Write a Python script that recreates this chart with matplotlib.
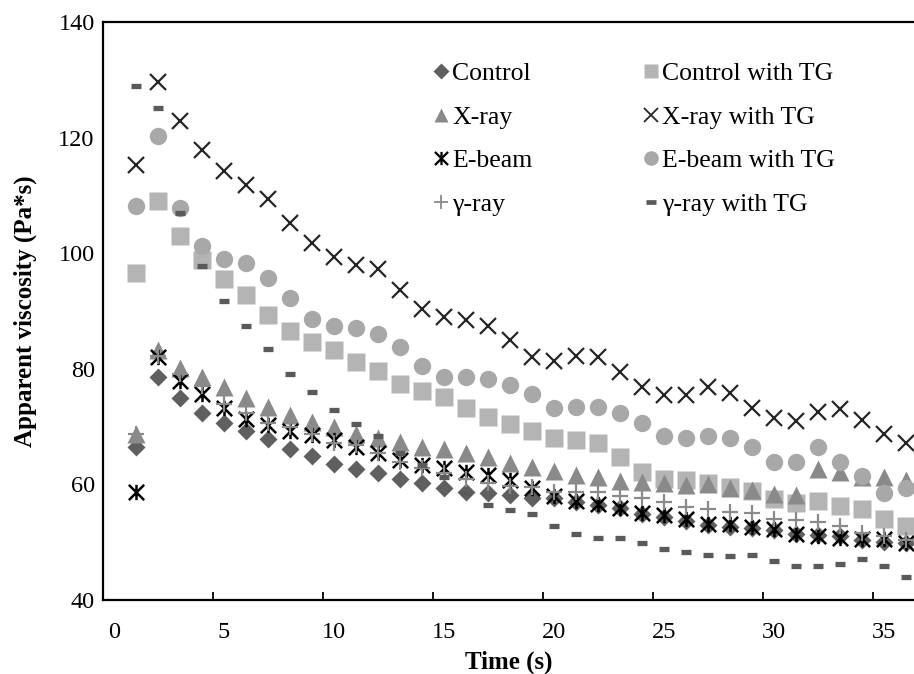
import matplotlib
matplotlib.use("Agg")
import matplotlib.pyplot as plt
import numpy as np
from matplotlib.path import Path

plt.rcParams["font.family"] = ["Liberation Serif", "DejaVu Serif"]

# time points (s)
time_s = np.arange(1, 37)

control = [66.5, 78.6, 75.0, 72.3, 70.7, 69.3, 67.8, 66.2, 65.0, 63.6,
           62.7, 61.9, 60.9, 60.2, 59.3, 58.6, 58.5, 58.2, 57.6, 57.6,
           57.0, 56.4, 55.9, 54.9, 54.4, 53.7, 53.0, 52.7, 52.5, 52.1,
           51.5, 51.2, 51.0, 50.4, 50.1, 49.8]
control_tg = [96.6, 109.0, 103.0, 98.9, 95.5, 92.8, 89.3, 86.5, 84.6, 83.2,
              81.1, 79.7, 77.4, 76.2, 75.1, 73.2, 71.7, 70.4, 69.2, 68.1,
              67.7, 67.1, 64.7, 62.2, 61.0, 60.8, 60.3, 59.6, 58.9, 57.4,
              56.7, 57.2, 56.3, 55.7, 54.0, 52.8]
xray = [68.7, 83.3, 80.1, 78.6, 76.9, 74.9, 73.4, 72.0, 70.8, 70.0,
        68.8, 68.1, 67.4, 66.4, 66.1, 65.4, 64.7, 63.7, 63.0, 62.4,
        61.6, 61.2, 60.6, 60.4, 60.2, 59.9, 60.1, 59.4, 59.0, 58.3,
        58.2, 62.7, 62.2, 61.3, 61.2, 60.8]
xray_tg = [115.3, 129.7, 122.8, 117.9, 114.3, 111.8, 109.3, 105.2, 101.8, 99.3,
           98.0, 97.2, 93.6, 90.4, 89.0, 88.4, 87.4, 85.0, 82.0, 81.4,
           82.3, 82.0, 79.4, 76.8, 75.5, 75.5, 76.8, 75.8, 73.2, 71.5,
           70.9, 72.6, 73.1, 71.2, 68.7, 67.2]
ebeam = [58.6, 82.1, 77.9, 75.6, 73.3, 71.3, 70.2, 69.3, 68.5, 67.7,
         66.5, 65.4, 64.2, 63.4, 62.8, 62.2, 61.6, 60.8, 59.3, 58.0,
         57.2, 56.6, 56.0, 55.0, 54.7, 54.0, 53.1, 53.1, 52.7, 52.2,
         51.5, 51.1, 50.7, 50.5, 50.5, 49.9]
ebeam_tg = [108.2, 120.3, 107.8, 101.2, 99.0, 98.3, 95.7, 92.2, 88.6, 87.4,
            87.1, 86.0, 83.7, 80.5, 78.5, 78.5, 78.2, 77.2, 75.6, 73.3,
            73.4, 73.4, 72.4, 70.6, 68.4, 68.1, 68.4, 68.0, 66.5, 63.8,
            63.8, 66.4, 63.8, 61.5, 58.5, 59.3]
gray = [68.7, 82.2, 79.1, 77.0, 73.9, 72.3, 70.7, 70.0, 68.8, 67.2,
        66.8, 65.5, 63.9, 62.8, 61.9, 60.9, 60.2, 59.8, 59.5, 58.7,
        58.6, 58.6, 58.0, 57.6, 57.0, 56.1, 55.7, 55.3, 55.0, 54.1,
        53.8, 53.5, 52.8, 51.6, 51.0, 50.4]
gray_tg = [128.9, 125.1, 106.9, 97.7, 91.7, 87.4, 83.4, 79.1, 75.9, 72.8,
           70.4, 68.4, 65.4, 63.4, 61.2, 58.5, 56.4, 55.6, 54.8, 52.8,
           51.4, 50.7, 50.7, 49.9, 48.8, 48.3, 47.8, 47.6, 47.8, 46.8,
           45.9, 45.9, 46.3, 47.1, 45.9, 44.0]

star = Path([(-1, -1), (1, 1), (-1, 1), (1, -1), (0, -1), (0, 1)],
            [Path.MOVETO, Path.LINETO] * 3)

fig = plt.figure(figsize=(9.14, 6.74), dpi=100)
ax = fig.add_axes([103 / 914, 74 / 674, 811 / 914, 578 / 674])

# draw order follows the original overlap
ax.plot(time_s, control, ls="none", marker="D", ms=9.5, color="#5f5f5f", mec="none")
ax.plot(time_s, control_tg, ls="none", marker="s", ms=12.5, color="#b4b4b4", mec="none")
ax.plot(time_s, xray, ls="none", marker="^", ms=12.5, color="#8a8a8a", mec="none")
ax.plot(time_s, xray_tg, ls="none", marker="x", ms=12, mew=1.6, color="#262626")
ax.plot(time_s, ebeam_tg, ls="none", marker="o", ms=12.5, color="#a8a8a8", mec="none")
ax.plot(time_s, ebeam, ls="none", marker=star, ms=11, mew=1.8, color="black", mfc="none")
ax.plot(time_s, gray, ls="none", marker="+", ms=12, mew=1.6, color="#8a8a8a")
ax.plot(time_s, gray_tg, ls="none", marker="_", ms=7.5, mew=3.8, color="#5a5a5a")

ax.set_xlim(-0.5, 36.36)
ax.set_ylim(40, 140)
ax.set_xticks(np.arange(0, 36, 5))
ax.set_xticks(np.arange(5, 36, 5) - 0.5, minor=True)
ax.set_yticks(np.arange(40, 141, 20))
ax.tick_params(axis="x", which="major", length=0, pad=16, labelsize=17.5)
ax.tick_params(axis="x", which="minor", direction="in", length=5.5, width=1.3)
ax.tick_params(axis="y", length=0, pad=6, labelsize=17.5)
for side in ["left", "bottom", "top"]:
    ax.spines[side].set_linewidth(1.6)
ax.spines["right"].set_visible(False)

ax.set_xlabel("Time (s)", fontsize=18, fontweight="bold", labelpad=5)
ax.set_ylabel("Apparent viscosity (Pa*s)", fontsize=18, fontweight="bold")
ax.yaxis.set_label_coords(-0.081, 0.5)

# legend: left column plain treatments, right column with TG
h = [
    ax.plot([], [], ls="none", marker="D", ms=8, color="#5f5f5f", mec="none")[0],
    ax.plot([], [], ls="none", marker="^", ms=10.5, color="#8a8a8a", mec="none")[0],
    ax.plot([], [], ls="none", marker=star, ms=9.5, mew=1.6, color="black")[0],
    ax.plot([], [], ls="none", marker="+", ms=10.5, mew=1.3, color="#8a8a8a")[0],
    ax.plot([], [], ls="none", marker="s", ms=10.5, color="#b4b4b4", mec="none")[0],
    ax.plot([], [], ls="none", marker="x", ms=10, mew=1.3, color="#262626")[0],
    ax.plot([], [], ls="none", marker="o", ms=10.5, color="#a8a8a8", mec="none")[0],
    ax.plot([], [], ls="none", marker="_", ms=6.5, mew=3.4, color="#5a5a5a")[0],
]
labels = ["Control", "X-ray", "E-beam", "γ-ray",
          "Control with TG", "X-ray with TG", "E-beam with TG", "γ-ray with TG"]
ax.legend(h, labels, ncol=2, loc="upper left", bbox_to_anchor=(433 / 914, 1 - 62 / 674),
          bbox_transform=fig.transFigure, frameon=False, fontsize=18.5,
          handlelength=0.6, handletextpad=0.15, columnspacing=4.3,
          labelspacing=0.8, borderaxespad=0, borderpad=0)

fig.savefig("out.png", dpi=100)
